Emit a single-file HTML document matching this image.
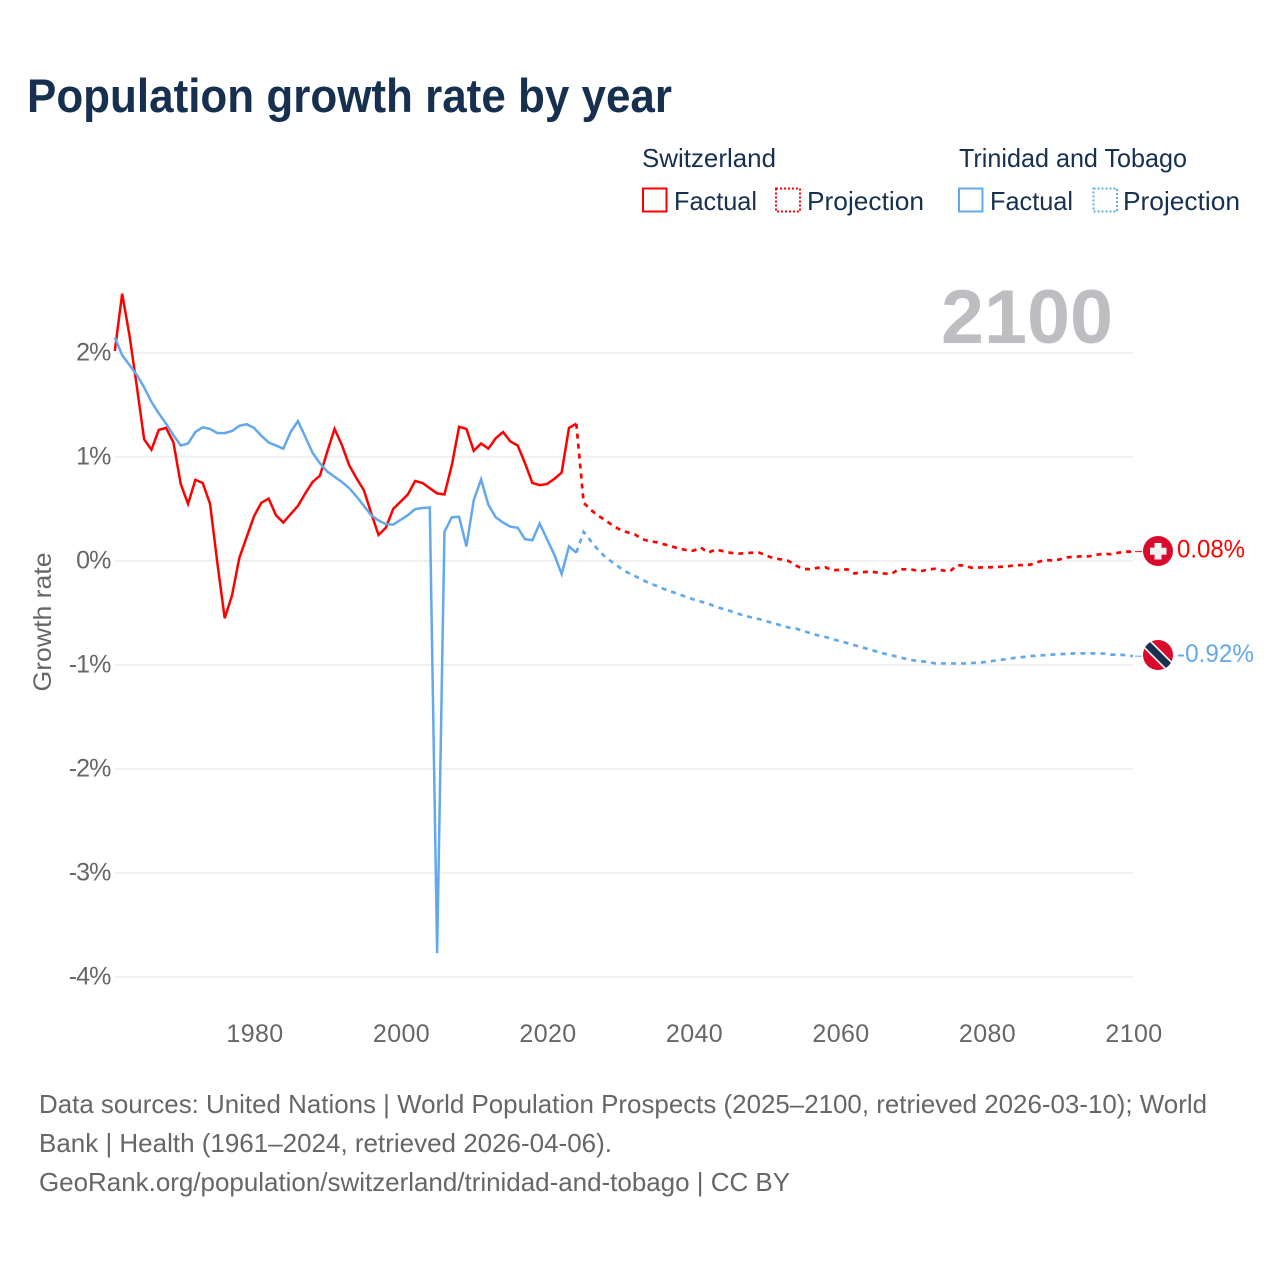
<!DOCTYPE html>
<html lang="en">
<head>
<meta charset="utf-8">
<title>Population growth rate by year</title>
<style>
html,body{margin:0;padding:0;background:#fff;width:1280px;height:1280px;overflow:hidden}
svg{display:block}
text{font-family:"Liberation Sans",sans-serif}
</style>
</head>
<body>
<svg id="chart" xmlns="http://www.w3.org/2000/svg" width="1280" height="1280" viewBox="0 0 1280 1280">
  <rect width="1280" height="1280" fill="#fff"/>
  <text x="27" y="112" font-size="47" font-weight="700" fill="#17304f" textLength="645" lengthAdjust="spacingAndGlyphs">Population growth rate by year</text>

  <g font-size="26" fill="#17304f">
    <text x="642" y="167" textLength="134" lengthAdjust="spacingAndGlyphs">Switzerland</text>
    <rect x="643" y="188.5" width="23.5" height="23" fill="none" stroke="#ff0000" stroke-width="2"/>
    <text x="674" y="210" textLength="83" lengthAdjust="spacingAndGlyphs">Factual</text>
    <rect x="776" y="188.5" width="24" height="23" fill="none" stroke="#ff0000" stroke-width="2" stroke-dasharray="2 2"/>
    <text x="807" y="210" textLength="117" lengthAdjust="spacingAndGlyphs">Projection</text>
    <text x="959" y="167" textLength="228" lengthAdjust="spacingAndGlyphs">Trinidad and Tobago</text>
    <rect x="959" y="188.5" width="23.5" height="23" fill="none" stroke="#64a8ec" stroke-width="2"/>
    <text x="990" y="210" textLength="83" lengthAdjust="spacingAndGlyphs">Factual</text>
    <rect x="1093.5" y="188.5" width="23.5" height="23" fill="none" stroke="#64a8ec" stroke-width="2" stroke-dasharray="2 2"/>
    <text x="1123" y="210" textLength="117" lengthAdjust="spacingAndGlyphs">Projection</text>
  </g>

  <g id="grid"></g>
  <text x="941" y="343" font-size="76" font-weight="700" fill="#bcbec1" textLength="172" lengthAdjust="spacingAndGlyphs">2100</text>
  <g id="yticks"></g>
  <g id="xticks"></g>
  <text transform="translate(51 622) rotate(-90)" text-anchor="middle" font-size="25" fill="#666" textLength="139" lengthAdjust="spacingAndGlyphs">Growth rate</text>
  <g id="series"></g>

  <defs>
    <clipPath id="flag-clip-ch"><circle cx="1158" cy="551" r="15"/></clipPath>
    <clipPath id="flag-clip-tt"><circle cx="1158" cy="655" r="15"/></clipPath>
  </defs>
  <g clip-path="url(#flag-clip-ch)">
    <rect x="1143" y="536" width="30" height="30" fill="#da0a2d"/>
    <rect x="1154.5" y="543" width="7" height="16.5" fill="#f2f2f2"/>
    <rect x="1150" y="547.7" width="16.5" height="7" fill="#f2f2f2"/>
  </g>
  <g clip-path="url(#flag-clip-tt)">
    <rect x="1143" y="640" width="30" height="30" fill="#da0a2d"/>
    <line x1="1143" y1="640" x2="1173" y2="670" stroke="#f2f2f2" stroke-width="10.5"/>
    <line x1="1143" y1="640" x2="1173" y2="670" stroke="#17304f" stroke-width="7"/>
  </g>
  <g id="endlabels" font-size="25"></g>

  <g font-size="26" fill="#666">
    <text x="39" y="1113" textLength="1168" lengthAdjust="spacingAndGlyphs">Data sources: United Nations | World Population Prospects (2025–2100, retrieved 2026-03-10); World</text>
    <text x="39" y="1152" textLength="573" lengthAdjust="spacingAndGlyphs">Bank | Health (1961–2024, retrieved 2026-04-06).</text>
    <text x="39" y="1191" textLength="751" lengthAdjust="spacingAndGlyphs">GeoRank.org/population/switzerland/trinidad-and-tobago | CC BY</text>
  </g>
</svg>
<script>
const firstFactualYear = 1961;
const firstProjectionYear = 2025;
const yTickValues = [2, 1, 0, -1, -2, -3, -4];
const yTickLabels = ["2%", "1%", "0%", "-1%", "-2%", "-3%", "-4%"];
const xTickYears = [1980, 2000, 2020, 2040, 2060, 2080, 2100];
const endValueLabels = ["0.08%", "-0.92%"];

const switzerlandFactual = [
  2.02,2.57,2.17,1.68,1.17,1.07,1.26,1.28,1.14,0.74,
  0.55,0.78,0.75,0.55,-0.02,-0.55,-0.33,0.03,0.23,0.43,
  0.56,0.60,0.44,0.37,0.45,0.53,0.65,0.76,0.82,1.05,
  1.27,1.115,0.92,0.795,0.68,0.46,0.25,0.32,0.50,0.57,
  0.64,0.77,0.75,0.70,0.65,0.64,0.92,1.29,1.27,1.06,
  1.13,1.08,1.18,1.24,1.15,1.11,0.94,0.75,0.73,0.74,
  0.79,0.85,1.28,1.32
];
const switzerlandProjection = [
  0.56,0.49,0.435,0.39,0.34,0.30,0.275,0.255,0.21,0.19,
  0.18,0.16,0.14,0.12,0.105,0.10,0.13,0.08,0.11,0.095,
  0.08,0.07,0.075,0.08,0.08,0.05,0.025,0.015,0.00,-0.045,
  -0.075,-0.08,-0.065,-0.06,-0.09,-0.085,-0.08,-0.12,-0.11,-0.10,
  -0.11,-0.12,-0.125,-0.08,-0.08,-0.085,-0.10,-0.08,-0.075,-0.09,
  -0.10,-0.04,-0.045,-0.065,-0.063,-0.06,-0.06,-0.055,-0.05,-0.04,
  -0.04,-0.035,-0.01,0.01,0.005,0.015,0.035,0.04,0.045,0.045,
  0.06,0.07,0.065,0.08,0.09,0.09
];
const trinidadFactual = [
  2.15,1.98,1.885,1.79,1.67,1.53,1.42,1.32,1.21,1.11,
  1.13,1.24,1.285,1.27,1.23,1.23,1.25,1.30,1.315,1.28,
  1.205,1.14,1.11,1.08,1.24,1.345,1.195,1.04,0.94,0.86,
  0.81,0.76,0.70,0.62,0.53,0.44,0.39,0.355,0.35,0.395,
  0.44,0.50,0.51,0.515,-3.77,0.28,0.42,0.425,0.14,0.585,
  0.785,0.54,0.42,0.37,0.33,0.32,0.21,0.20,0.36,0.21,
  0.06,-0.125,0.14,0.08
];
const trinidadProjection = [
  0.28,0.19,0.105,0.035,-0.015,-0.067,-0.11,-0.145,-0.18,-0.215,
  -0.24,-0.27,-0.295,-0.32,-0.345,-0.37,-0.39,-0.41,-0.44,-0.46,
  -0.48,-0.505,-0.525,-0.545,-0.56,-0.58,-0.60,-0.62,-0.64,-0.65,
  -0.673,-0.695,-0.715,-0.73,-0.753,-0.77,-0.79,-0.81,-0.83,-0.85,
  -0.87,-0.89,-0.905,-0.925,-0.94,-0.955,-0.965,-0.97,-0.985,-0.985,
  -0.985,-0.985,-0.985,-0.98,-0.978,-0.97,-0.96,-0.95,-0.94,-0.93,
  -0.923,-0.915,-0.91,-0.905,-0.90,-0.895,-0.894,-0.888,-0.888,-0.888,
  -0.888,-0.89,-0.90,-0.90,-0.905,-0.915
];

const NS = "http://www.w3.org/2000/svg";
function xScale(year) { return 254 + (year - 1980) * 7.325; }
function yScale(value) { return 561 - value * 104; }
function make(tag, parentId, props, content) {
  const el = document.createElementNS(NS, tag);
  Object.keys(props).forEach(function (k) { el.setAttribute(k, props[k]); });
  if (content !== undefined) el.textContent = content;
  document.getElementById(parentId).appendChild(el);
  return el;
}
function linePath(values, startYear, prefix) {
  let pts = prefix ? [prefix] : [];
  values.forEach(function (v, i) {
    pts.push(xScale(startYear + i).toFixed(2) + " " + yScale(v).toFixed(2));
  });
  return "M" + pts.join("L");
}

yTickValues.forEach(function (v, i) {
  const grid = make("line", "grid", { x1: 115, x2: 1133, y1: yScale(v), y2: yScale(v), stroke: "#ececec", "stroke-width": 1.6 });
  
  
  const label = make("text", "yticks", { x: 110.5, y: yScale(v) + 7.5, "text-anchor": "end", "font-size": 25, fill: "#666", "letter-spacing": "-0.9" }, yTickLabels[i]);
  
  
});
xTickYears.forEach(function (year) {
  const label = make("text", "xticks", { x: xScale(year) + 1, y: 1042, "text-anchor": "middle", "font-size": 25, fill: "#666", "letter-spacing": "0.4" }, String(year));
  
  
});

const lastFactualYear = firstProjectionYear - 1;
function joinPoint(values) {
  return xScale(lastFactualYear).toFixed(2) + " " + yScale(values[values.length - 1]).toFixed(2);
}
const swissLine = make("path", "series", { d: linePath(switzerlandFactual, firstFactualYear), fill: "none", stroke: "#ff0000", "stroke-width": 2.5, "stroke-linejoin": "miter" });


const swissProj = make("path", "series", { d: linePath(switzerlandProjection, firstProjectionYear, joinPoint(switzerlandFactual)), fill: "none", stroke: "#ff0000", "stroke-width": 2.7, "stroke-dasharray": "5 5" });


const ttLine = make("path", "series", { d: linePath(trinidadFactual, firstFactualYear), fill: "none", stroke: "#64a8ec", "stroke-width": 2.5, "stroke-linejoin": "miter" });


const ttProj = make("path", "series", { d: linePath(trinidadProjection, firstProjectionYear, joinPoint(trinidadFactual)), fill: "none", stroke: "#64a8ec", "stroke-width": 2.7, "stroke-dasharray": "5 5" });



const swissEnd = switzerlandProjection[switzerlandProjection.length - 1];
const ttEnd = trinidadProjection[trinidadProjection.length - 1];
const swissConn = make("line", "series", { x1: 1135, x2: 1142, y1: yScale(swissEnd), y2: yScale(swissEnd), stroke: "#ff0000", "stroke-width": 1 });


const ttConn = make("line", "series", { x1: 1135, x2: 1142, y1: yScale(ttEnd), y2: yScale(ttEnd), stroke: "#64a8ec", "stroke-width": 1 });



const swissLabel = make("text", "endlabels", { x: 1177, y: yScale(swissEnd) + 6, fill: "#ff0000", textLength: 68, lengthAdjust: "spacingAndGlyphs" }, endValueLabels[0]);


const ttLabel = make("text", "endlabels", { x: 1177, y: yScale(ttEnd) + 6, fill: "#64a8ec", textLength: 77, lengthAdjust: "spacingAndGlyphs" }, endValueLabels[1]);


</script>
</body>
</html>
